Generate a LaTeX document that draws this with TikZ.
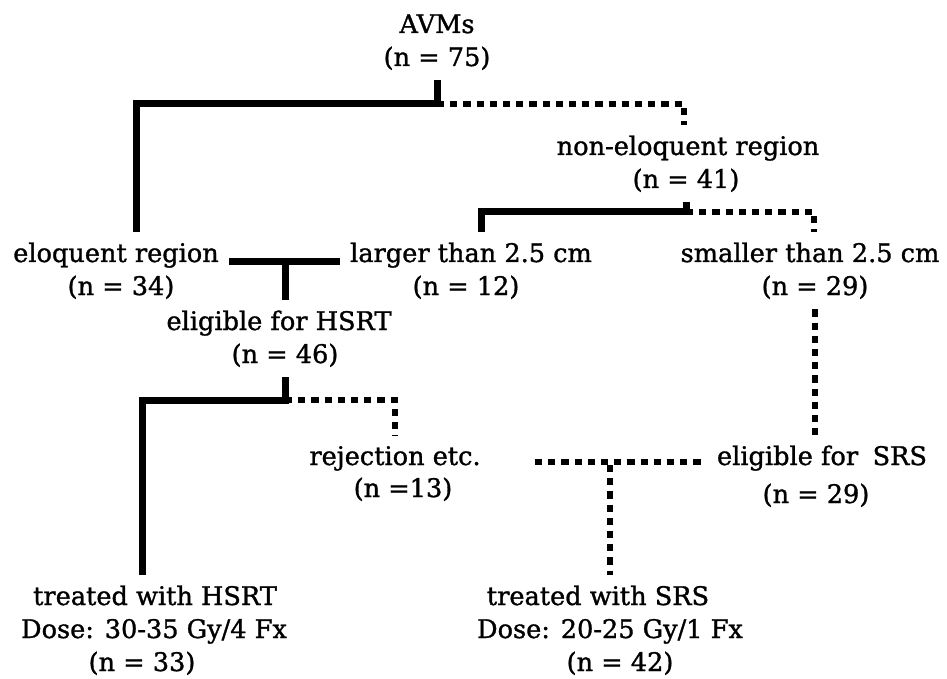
\documentclass[tikz,border=0pt]{standalone}
\usepackage{fontspec}
\setmainfont{DejaVu Serif}
\newfontfamily\chartfont{DejaVu Serif}[FakeBold=1.2]
\usetikzlibrary{positioning}

\begin{document}
\begin{tikzpicture}[
    x=0.5pt,y=-0.5pt,
    lbl/.style={font=\chartfont\fontsize{12.8}{16.5}\selectfont,inner sep=5pt,anchor=base},
    solidline/.style={line width=3.5pt,line join=miter},
    dotline/.style={line width=3.2pt,dash pattern=on 3.6pt off 3pt}
  ]
    \useasboundingbox (0,0) rectangle (947,679);

    \node[lbl] (avms) at (437,33) {AVMs};
    \node[lbl] (avmsN) at (437,66) {(n = 75)};
    \node[lbl] (nonelo) at (688,155) {non-eloquent region};
    \node[lbl] (noneloN) at (686,188) {(n = 41)};
    \node[lbl] (elo) at (116,262) {eloquent region};
    \node[lbl] (eloN) at (121,295) {(n = 34)};
    \node[lbl] (larger) at (471,262) {larger than 2.5 cm};
    \node[lbl] (largerN) at (466,295) {(n = 12)};
    \node[lbl] (smaller) at (810,262) {smaller than 2.5 cm};
    \node[lbl] (smallerN) at (815,295) {(n = 29)};
    \node[lbl] (hsrt) at (279,330) {eligible for HSRT};
    \node[lbl] (hsrtN) at (285,363) {(n = 46)};
    \node[lbl] (reject) at (395,465) {rejection etc.};
    \node[lbl] (rejectN) at (403,497) {(n =13)};
    \node[lbl] (srs) at (822,465) {eligible for\hspace{0.25em} SRS};
    \node[lbl] (srsN) at (816,503) {(n = 29)};
    \node[lbl] (txhsrt) at (155,605) {treated with HSRT};
    \node[lbl] (txhsrtDose) at (154,638) {Dose: 30-35 Gy/4 Fx};
    \node[lbl] (txhsrtN) at (142,671) {(n = 33)};
    \node[lbl] (txsrs) at (598,605) {treated with SRS};
    \node[lbl] (txsrsDose) at (610,638) {Dose: 20-25 Gy/1 Fx};
    \node[lbl] (txsrsN) at (620,671) {(n = 42)};

    % branch points
    \coordinate (splitTop) at (437,104);
    \coordinate (splitNon) at (686,212);
    \coordinate (splitHsrt) at (285,400);

    \draw[solidline] (avmsN.south) -- (splitTop) -| ([xshift=10pt]elo.north);
    \draw[dotline] (splitTop) -| ([xshift=-2pt]nonelo.north);

    \draw[solidline] (noneloN.south) -- (splitNon) -| ([xshift=5pt]larger.north);
    \draw[dotline] (splitNon) -| ([xshift=2pt]smaller.north);

    \draw[solidline] (elo.base east) -- (larger.base west);
    \draw[solidline] (hsrtN |- elo.base east) -- (hsrtN |- hsrt.north);

    \draw[solidline] (hsrtN.south) -- (splitHsrt) -| (txhsrtN |- txhsrt.north);
    \draw[dotline] (splitHsrt) -| (reject.north);

    \draw[dotline] (smallerN.south) -- (smallerN |- srs.north);
    \draw[dotline] ([xshift=22pt,yshift=1.5pt]reject.base east) -- ([xshift=-2pt,yshift=1.5pt]srs.base west);
    \draw[dotline] (txsrsDose |- reject.base east) -- (txsrsDose |- txsrs.north);
\end{tikzpicture}
\end{document}
